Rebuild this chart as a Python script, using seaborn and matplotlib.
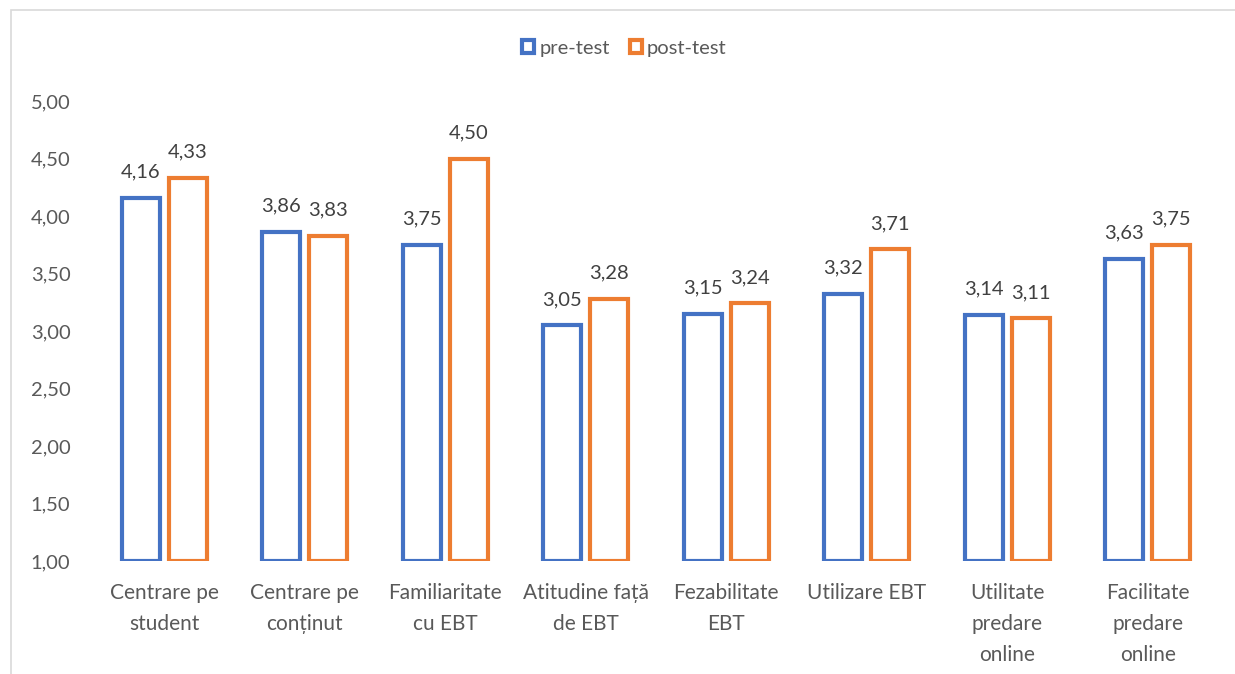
import pandas as pd
import matplotlib.pyplot as plt
import seaborn as sns
from matplotlib.patches import Rectangle

categories = ['Centrare pe\nstudent', 'Centrare pe\nconținut', 'Familiaritate\ncu EBT',
              'Atitudine față\nde EBT', 'Fezabilitate\nEBT', 'Utilizare EBT',
              'Utilitate\npredare\nonline', 'Facilitate\npredare\nonline']
pre_test = [4.16, 3.86, 3.75, 3.05, 3.15, 3.32, 3.14, 3.63]
post_test = [4.33, 3.83, 4.50, 3.28, 3.24, 3.71, 3.11, 3.75]
series = ['pre-test', 'post-test']
yticks = [1, 1.5, 2, 2.5, 3, 3.5, 4, 4.5, 5]

df = pd.DataFrame({
    'categorie': categories * 2,
    'valoare': pre_test + post_test,
    'serie': [series[0]] * len(categories) + [series[1]] * len(categories),
})

sns.set_style('white')
plt.rcParams['font.family'] = ['Lato', 'DejaVu Sans']
FS = 14.5

fig = plt.figure(figsize=(12.35, 6.74), dpi=100)
ax = fig.add_axes([94 / 1235, 113 / 674, 1124 / 1235, 460 / 674])

# frame of the chart area (cut off on the right and bottom)
fig.patches.append(Rectangle((11 / 1235, -0.1), 1.2, 1 - 10 / 674 + 0.1,
                             transform=fig.transFigure, fill=False,
                             edgecolor='#d9d9d9', linewidth=1.2))

sns.barplot(data=df, x='categorie', y='valoare', hue='serie',
            palette={'pre-test': '#4472c4', 'post-test': '#ed7d31'},
            width=0.67, gap=0.19, fill=False, linewidth=3, ax=ax,
            err_kws={'linewidth': 0})

# bars start at 1, like the reference
for p in ax.patches:
    h = p.get_height()
    p.set_y(1)
    p.set_height(h - 1)

for cont in ax.containers:
    labels = [f"{v:.2f}".replace('.', ',') for v in cont.datavalues]
    ax.bar_label(cont, labels=labels, padding=12.5, fontsize=FS, color='#404040')

ax.set_ylim(1, 5)
ax.set_yticks(yticks)
ax.set_yticklabels([f"{t:.2f}".replace('.', ',') for t in yticks])
ax.set_xlabel('')
ax.set_ylabel('')
ax.tick_params(axis='both', length=0, labelsize=FS, colors='#595959')
ax.tick_params(axis='x', pad=16, labelsize=15)
ax.tick_params(axis='y', pad=17)
for lbl in ax.get_xticklabels():
    lbl.set_linespacing(1.67)
sns.despine(ax=ax, left=True, bottom=True)

sns.move_legend(ax, 'center', bbox_to_anchor=(0.472, 1.115), ncol=2,
                frameon=False, title=None, fontsize=FS, handlelength=0.6,
                handleheight=0.6, handletextpad=0.25, columnspacing=1.0)
for t in ax.get_legend().get_texts():
    t.set_color('#595959')

fig.savefig('out.png', dpi=100)
